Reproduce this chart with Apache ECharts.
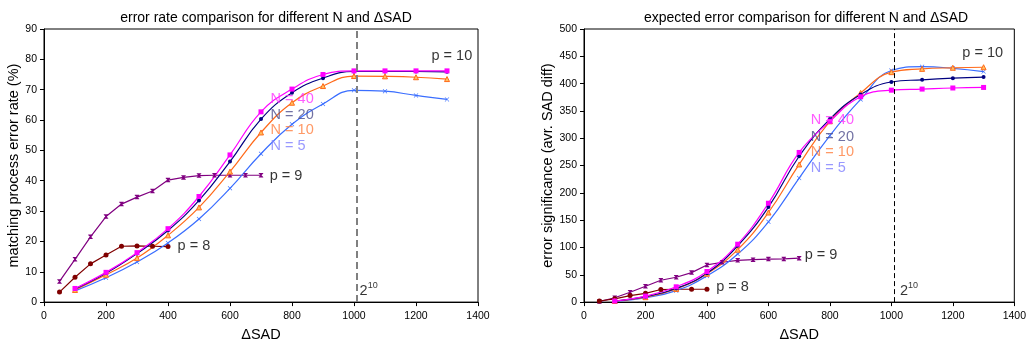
<!DOCTYPE html>
<html>
<head>
<meta charset="utf-8">
<script src="https://cdn.jsdelivr.net/npm/echarts@6/dist/echarts.min.js"></script>
<style>
html,body{margin:0;padding:0;background:#fff;}
#c{width:1029px;height:347px;}
</style>
</head>
<body>
<div id="c"></div>
<script>
// ---- data ----
var sadN = [100, 200, 300, 400, 500, 600, 700, 800, 900, 1000, 1100, 1200, 1300];
var sadP9 = [50, 100, 150, 200, 250, 300, 350, 400, 450, 500, 550, 600, 650, 700];
var sadP8 = [50, 100, 150, 200, 250, 300, 350, 400];

// left: matching process error rate (%)
var rateN40 = [4.5, 9.8, 16.3, 24.2, 34.8, 48.5, 62.7, 70.2, 75.0, 76.2, 76.2, 76.2, 76.2];
var rateN20 = [4.3, 9.5, 16.0, 23.6, 33.5, 46.3, 60.3, 69.0, 73.8, 76.0, 76.0, 76.0, 75.9];
var rateN10 = [4.0, 9.0, 14.5, 22.0, 31.2, 43.0, 55.9, 65.7, 71.2, 74.5, 74.4, 74.1, 73.5];
var rateN5  = [3.7, 8.0, 13.2, 19.5, 27.4, 37.5, 48.9, 58.6, 65.3, 69.8, 69.5, 68.1, 66.8];
var rateP9  = [6.8, 14.1, 21.5, 28.2, 32.3, 34.6, 36.6, 40.2, 41.1, 41.7, 41.8, 41.8, 41.8, 41.8];
var rateP8  = [3.3, 8.2, 12.6, 15.5, 18.4, 18.5, 18.4, 18.3];

// right: error significance (avr. SAD diff)
var sigN40 = [2, 11, 28, 56, 106, 181, 274, 331, 376, 388, 390, 392, 393];
var sigN20 = [2, 10, 25, 53, 103, 174, 267, 335, 380, 403, 407, 410, 412];
var sigN10 = [2, 9, 24, 52, 96, 164, 252, 331, 383, 421, 427, 429, 430];
var sigN5  = [1, 8, 21, 48, 88, 147, 227, 305, 371, 424, 431, 428, 422];
var sigP9  = [1, 8, 18, 29, 40, 45.5, 54, 68, 73, 76.5, 77.7, 78.7, 79, 80.5];
var sigP8  = [2, 6, 12, 16, 23, 23.5, 23.5, 23.5];

var xTicks = [0, 200, 400, 600, 800, 1000, 1200, 1400];
var pow10 = 1010; // 2^10 reference line as drawn

// ---- helpers ----
function pairs(xs, ys){ return xs.map(function(x,i){ return [x, ys[i]]; }); }
var FONT = 'Liberation Sans, Arial, sans-serif';
var SYM_X = 'path://M0,1L1,0L5,4L9,0L10,1L6,5L10,9L9,10L5,6L1,10L0,9L4,5Z';
var SYM_STAR = 'path://M0,0L10,0L10,1.2L6.2,5L10,8.8L10,10L0,10L0,8.8L3.8,5L0,1.2Z';

var C = {n40:'#FF00FF', n20:'#000080', n10:'#FF6A1A', n5:'#3A6EFF', p9:'#800080', p8:'#800000'};
var L = {n40:'#FF33FF', n20:'#4D4D8C', n10:'#FF8040', n5:'#7F7FFF'};

function plain(v){ return String(v); }

function lineSeries(idx, name, xs, ys, color, sym, size, smooth, fill){
  return {
    type:'line', name:name, xAxisIndex:idx, yAxisIndex:idx,
    data: pairs(xs, ys), smooth: smooth ? 0.45 : false,
    symbol: sym, symbolSize: size, showSymbol:true,
    lineStyle:{color:color, width:1.2},
    itemStyle:{color: fill || color, borderColor:color, borderWidth: fill ? 1 : 0},
    z: 3, animation:false
  };
}

function annot(idx, items){
  return {
    type:'scatter', xAxisIndex:idx, yAxisIndex:idx, symbolSize:0, z:10, silent:true, animation:false,
    data: items.map(function(a){
      return {value:[a[1], a[2]], name:a[0],
        label:{show:true, position:'right', distance:0, formatter: a[4] || '{b}',
          color:a[3], fontSize:14.5, fontFamily:FONT,
          rich:{b:{fontSize:14.5, color:'#000', fontFamily:FONT}, s:{fontSize:9, color:'#000', verticalAlign:'top', padding:[0,0,10,0], fontFamily:FONT}}}};
    })
  };
}

function vline(idx, color, width, dash){
  return {
    type:'line', xAxisIndex:idx, yAxisIndex:idx, data:[], silent:true, animation:false,
    markLine:{symbol:['none','none'], silent:true, animation:false, label:{show:false},
      lineStyle:{color:color, width:width, type:dash},
      data:[{xAxis:pow10}]}
  };
}

function xAx(idx){
  return {type:'value', gridIndex:idx, min:xTicks[0], max:xTicks[xTicks.length-1], interval:200,
    name:'\u0394SAD', nameLocation:'middle', nameGap:22,
    nameTextStyle:{fontSize:14.5, color:'#000', fontFamily:FONT},
    axisLine:{lineStyle:{color:'#000', width:1}}, axisTick:{length:4, lineStyle:{color:'#000'}},
    axisLabel:{fontSize:10.5, color:'#000', margin:9, fontFamily:FONT, formatter:plain}, splitLine:{show:false}};
}
function yAx(idx, max, step, name, gap){
  return {type:'value', gridIndex:idx, min:0, max:max, interval:step,
    name:name, nameLocation:'middle', nameGap:gap, nameRotate:90,
    nameTextStyle:{fontSize:14.5, color:'#000', fontFamily:FONT},
    axisLine:{show:true, lineStyle:{color:'#000', width:1}}, axisTick:{show:true, length:4, lineStyle:{color:'#000'}},
    axisLabel:{fontSize:10.5, color:'#000', margin:7, fontFamily:FONT, formatter:plain}, splitLine:{show:false}};
}

var option = {
  backgroundColor:'#fff',
  animation:false,
  title:[
    {text:'error rate comparison for different N and \u0394SAD', left:261, top:6, textAlign:'center',
      textStyle:{fontSize:14, fontWeight:'normal', color:'#000', fontFamily:FONT}},
    {text:'expected error comparison for different N and \u0394SAD', left:801, top:6, textAlign:'center',
      textStyle:{fontSize:14, fontWeight:'normal', color:'#000', fontFamily:FONT}}
  ],
  grid:[
    {left:44, top:29, width:434, height:281, show:true, borderColor:'#000', borderWidth:1, backgroundColor:'transparent'},
    {left:584, top:29, width:434, height:281, show:true, borderColor:'#000', borderWidth:1, backgroundColor:'transparent'}
  ],
  xAxis:[xAx(0), xAx(1)],
  yAxis:[yAx(0, 90, 10, 'matching process error rate (%)', 20), yAx(1, 500, 50, 'error significance (avr. SAD diff)', 29)],
  series:[
    vline(0, '#808080', 2, [7,4]),
    lineSeries(0, 'p = 9', sadP9, rateP9, C.p9, SYM_STAR, 4.5, false),
    lineSeries(0, 'p = 8', sadP8, rateP8, C.p8, 'circle', 5, false),
    lineSeries(0, 'N = 5', sadN, rateN5, C.n5, SYM_X, 4.5, true),
    lineSeries(0, 'N = 10', sadN, rateN10, C.n10, 'triangle', 5, true, '#FFC060'),
    lineSeries(0, 'N = 20', sadN, rateN20, C.n20, 'circle', 4, true),
    lineSeries(0, 'N = 40', sadN, rateN40, C.n40, 'rect', 5, true),
    annot(0, [
      ['N = 40', 731, 66.9, L.n40],
      ['N = 20', 731, 61.8, L.n20],
      ['N = 10', 731, 56.7, L.n10],
      ['N = 5', 731, 51.5, L.n5],
      ['p = 10', 1250, 81.0, '#000'],
      ['p = 9', 728, 41.6, '#000'],
      ['p = 8', 431, 18.6, '#000'],
      ['2^10', 1018, 3.8, '#000', '{b|2}{s|10}']
    ]),

    vline(1, '#000', 1, [5,3]),
    lineSeries(1, 'p = 9', sadP9, sigP9, C.p9, SYM_STAR, 4.5, false),
    lineSeries(1, 'p = 8', sadP8, sigP8, C.p8, 'circle', 5, false),
    lineSeries(1, 'N = 5', sadN, sigN5, C.n5, SYM_X, 4.5, true),
    lineSeries(1, 'N = 10', sadN, sigN10, C.n10, 'triangle', 5, true, '#FFC060'),
    lineSeries(1, 'N = 20', sadN, sigN20, C.n20, 'circle', 4, true),
    lineSeries(1, 'N = 40', sadN, sigN40, C.n40, 'rect', 5, true),
    annot(1, [
      ['N = 40', 738, 332.7, L.n40],
      ['N = 20', 738, 302.5, L.n20],
      ['N = 10', 738, 274, L.n10],
      ['N = 5', 738, 245.6, L.n5],
      ['p = 10', 1231, 455.5, '#000'],
      ['p = 9', 718, 87, '#000'],
      ['p = 8', 430, 28.5, '#000'],
      ['2^10', 1028, 21, '#000', '{b|2}{s|10}']
    ])
  ]
};

var chart = echarts.init(document.getElementById('c'), null, {renderer:'canvas'});
chart.setOption(option);
</script>
</body>
</html>
